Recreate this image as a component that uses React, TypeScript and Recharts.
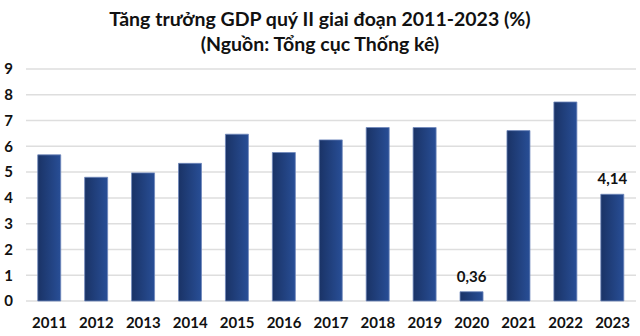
import { BarChart, Bar, XAxis, YAxis, CartesianGrid, LabelList } from "recharts";

// Q2 GDP growth, %
const years = ["2011", "2012", "2013", "2014", "2015", "2016", "2017", "2018", "2019", "2020", "2021", "2022", "2023"];
const growth = [5.67, 4.8, 4.97, 5.34, 6.47, 5.76, 6.25, 6.73, 6.73, 0.36, 6.61, 7.72, 4.14];
const shownLabels = ["", "", "", "", "", "", "", "", "", "0,36", "", "", "4,14"];
const yTicks = [0, 1, 2, 3, 4, 5, 6, 7, 8, 9];

const data = years.map((year, i) => ({ year, value: growth[i], label: shownLabels[i] }));

const FONT = "Lato, 'Open Sans', sans-serif";

const TopLabel = (props: any) => {
  const { x, y, width, value } = props;
  if (!value) return null;
  return (
    <text
      x={x + width / 2}
      y={y - 10}
      textAnchor="middle"
      fontFamily={FONT}
      fontWeight={700}
      fontSize={15}
      fill="#111"
    >
      {value}
    </text>
  );
};

export default function App() {
  return (
    <div style={{ position: "absolute", left: 0, top: 0, width: 640, height: 336, background: "#fff" }}>
      <div
        style={{
          position: "absolute",
          top: 6,
          left: 0,
          width: 640,
          textAlign: "center",
          fontFamily: FONT,
          fontWeight: 700,
          fontSize: 19.5,
          lineHeight: "25px",
          color: "#111",
        }}
      >
        <div>Tăng trưởng GDP quý II giai đoạn 2011-2023 (%)</div>
        <div>(Nguồn: Tổng cục Thống kê)</div>
      </div>
      <BarChart
        width={640}
        height={336}
        data={data}
        margin={{ top: 69, right: 4, bottom: 0, left: 0 }}
        barCategoryGap="25%"
        style={{ position: "absolute", left: 0, top: 0 }}
      >
        <defs>
          <linearGradient id="barFill" x1="0" y1="0" x2="1" y2="0">
            <stop offset="0%" stopColor="#1a3366" />
            <stop offset="100%" stopColor="#284e96" />
          </linearGradient>
        </defs>
        <CartesianGrid vertical={false} stroke="#dedede" strokeWidth={1.5} />
        <XAxis
          dataKey="year"
          height={35}
          axisLine={false}
          tickLine={false}
          tickSize={0}
          tickMargin={16}
          tick={{ fontFamily: FONT, fontWeight: 700, fontSize: 15, fill: "#111" }}
          interval={0}
        />
        <YAxis
          domain={[0, 9]}
          ticks={yTicks}
          width={26}
          axisLine={false}
          tickLine={false}
          tickSize={0}
          tickMargin={13}
          tick={{ fontFamily: FONT, fontWeight: 700, fontSize: 15, fill: "#111" }}
        />
        <Bar dataKey="value" fill="url(#barFill)" stroke="#7088bb" strokeWidth={0.8} isAnimationActive={false}>
          <LabelList dataKey="label" content={<TopLabel />} />
        </Bar>
      </BarChart>
    </div>
  );
}
